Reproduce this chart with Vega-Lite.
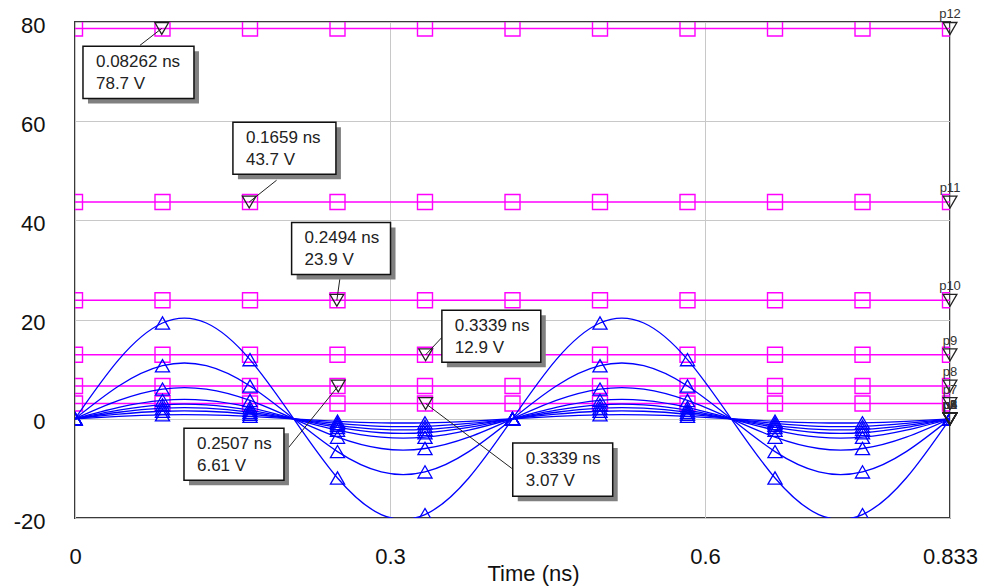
{
  "$schema": "https://vega.github.io/schema/vega-lite/v6.json",
  "width": 875,
  "height": 496,
  "autosize": {"type": "none"},
  "padding": {"left": 75, "top": 22, "right": 32, "bottom": 70},
  "background": "white",
  "config": {
    "font": "Liberation Sans",
    "view": {"stroke": "#3a3a3a", "strokeWidth": 2},
    "axis": {
      "grid": true, "gridColor": "#c8c8c8", "gridWidth": 1,
      "domain": false, "ticks": false,
      "labelFont": "Liberation Sans", "labelFontSize": 22, "labelColor": "#111111",
      "titleFont": "Liberation Sans", "titleFontSize": 22, "titleFontWeight": "normal", "titleColor": "#111111"
    }
  },
  "datasets": {
    "blue": [
      {"n": 0, "t": 0, "b1": 0, "b2": 0, "b3": 0, "b4": 0, "b5": 0, "b6": 0, "b7": 0, "b8": 0},
      {"n": 1, "t": 0.04167, "b1": 11.93, "b2": 6.61, "b3": 3.70, "b4": 2.29, "b5": 1.73, "b6": 1.32, "b7": 0.94, "b8": 0.50},
      {"n": 2, "t": 0.08333, "b1": 19.31, "b2": 10.70, "b3": 5.99, "b4": 3.71, "b5": 2.81, "b6": 2.14, "b7": 1.52, "b8": 0.81},
      {"n": 3, "t": 0.125, "b1": 19.31, "b2": 10.70, "b3": 5.99, "b4": 3.71, "b5": 2.81, "b6": 2.14, "b7": 1.52, "b8": 0.81},
      {"n": 4, "t": 0.16667, "b1": 11.93, "b2": 6.61, "b3": 3.70, "b4": 2.29, "b5": 1.73, "b6": 1.32, "b7": 0.94, "b8": 0.50},
      {"n": 5, "t": 0.20833, "b1": 0, "b2": 0, "b3": 0, "b4": 0, "b5": 0, "b6": 0, "b7": 0, "b8": 0},
      {"n": 6, "t": 0.25, "b1": -11.93, "b2": -6.61, "b3": -3.70, "b4": -2.29, "b5": -1.73, "b6": -1.32, "b7": -0.94, "b8": -0.50},
      {"n": 7, "t": 0.29167, "b1": -19.31, "b2": -10.70, "b3": -5.99, "b4": -3.71, "b5": -2.81, "b6": -2.14, "b7": -1.52, "b8": -0.81},
      {"n": 8, "t": 0.33333, "b1": -19.31, "b2": -10.70, "b3": -5.99, "b4": -3.71, "b5": -2.81, "b6": -2.14, "b7": -1.52, "b8": -0.81},
      {"n": 9, "t": 0.375, "b1": -11.93, "b2": -6.61, "b3": -3.70, "b4": -2.29, "b5": -1.73, "b6": -1.32, "b7": -0.94, "b8": -0.50},
      {"n": 10, "t": 0.41667, "b1": 0, "b2": 0, "b3": 0, "b4": 0, "b5": 0, "b6": 0, "b7": 0, "b8": 0},
      {"n": 11, "t": 0.45833, "b1": 11.93, "b2": 6.61, "b3": 3.70, "b4": 2.29, "b5": 1.73, "b6": 1.32, "b7": 0.94, "b8": 0.50},
      {"n": 12, "t": 0.5, "b1": 19.31, "b2": 10.70, "b3": 5.99, "b4": 3.71, "b5": 2.81, "b6": 2.14, "b7": 1.52, "b8": 0.81},
      {"n": 13, "t": 0.54167, "b1": 19.31, "b2": 10.70, "b3": 5.99, "b4": 3.71, "b5": 2.81, "b6": 2.14, "b7": 1.52, "b8": 0.81},
      {"n": 14, "t": 0.58333, "b1": 11.93, "b2": 6.61, "b3": 3.70, "b4": 2.29, "b5": 1.73, "b6": 1.32, "b7": 0.94, "b8": 0.50},
      {"n": 15, "t": 0.625, "b1": 0, "b2": 0, "b3": 0, "b4": 0, "b5": 0, "b6": 0, "b7": 0, "b8": 0},
      {"n": 16, "t": 0.66667, "b1": -11.93, "b2": -6.61, "b3": -3.70, "b4": -2.29, "b5": -1.73, "b6": -1.32, "b7": -0.94, "b8": -0.50},
      {"n": 17, "t": 0.70833, "b1": -19.31, "b2": -10.70, "b3": -5.99, "b4": -3.71, "b5": -2.81, "b6": -2.14, "b7": -1.52, "b8": -0.81},
      {"n": 18, "t": 0.75, "b1": -19.31, "b2": -10.70, "b3": -5.99, "b4": -3.71, "b5": -2.81, "b6": -2.14, "b7": -1.52, "b8": -0.81},
      {"n": 19, "t": 0.79167, "b1": -11.93, "b2": -6.61, "b3": -3.70, "b4": -2.29, "b5": -1.73, "b6": -1.32, "b7": -0.94, "b8": -0.50},
      {"n": 20, "t": 0.83333, "b1": 0, "b2": 0, "b3": 0, "b4": 0, "b5": 0, "b6": 0, "b7": 0, "b8": 0}
    ],
    "dc": [
      {"t": 0, "p7": 3.07, "p8": 6.61, "p9": 12.9, "p10": 23.9, "p11": 43.7, "p12": 78.7},
      {"t": 0.08333, "p7": 3.07, "p8": 6.61, "p9": 12.9, "p10": 23.9, "p11": 43.7, "p12": 78.7},
      {"t": 0.16667, "p7": 3.07, "p8": 6.61, "p9": 12.9, "p10": 23.9, "p11": 43.7, "p12": 78.7},
      {"t": 0.25, "p7": 3.07, "p8": 6.61, "p9": 12.9, "p10": 23.9, "p11": 43.7, "p12": 78.7},
      {"t": 0.33333, "p7": 3.07, "p8": 6.61, "p9": 12.9, "p10": 23.9, "p11": 43.7, "p12": 78.7},
      {"t": 0.41667, "p7": 3.07, "p8": 6.61, "p9": 12.9, "p10": 23.9, "p11": 43.7, "p12": 78.7},
      {"t": 0.5, "p7": 3.07, "p8": 6.61, "p9": 12.9, "p10": 23.9, "p11": 43.7, "p12": 78.7},
      {"t": 0.58333, "p7": 3.07, "p8": 6.61, "p9": 12.9, "p10": 23.9, "p11": 43.7, "p12": 78.7},
      {"t": 0.66667, "p7": 3.07, "p8": 6.61, "p9": 12.9, "p10": 23.9, "p11": 43.7, "p12": 78.7},
      {"t": 0.75, "p7": 3.07, "p8": 6.61, "p9": 12.9, "p10": 23.9, "p11": 43.7, "p12": 78.7},
      {"t": 0.83333, "p7": 3.07, "p8": 6.61, "p9": 12.9, "p10": 23.9, "p11": 43.7, "p12": 78.7}
    ],
    "ends": [
      {"p": "p12", "t": 0.83333, "v": 78.7},
      {"p": "p11", "t": 0.83333, "v": 43.7},
      {"p": "p10", "t": 0.83333, "v": 23.9},
      {"p": "p9", "t": 0.83333, "v": 12.9},
      {"p": "p8", "t": 0.83333, "v": 6.61},
      {"p": "p7", "t": 0.83333, "v": 3.07},
      {"p": "p6", "t": 0.83333, "v": 0},
      {"p": "p5", "t": 0.83333, "v": 0},
      {"p": "p4", "t": 0.83333, "v": 0},
      {"p": "p3", "t": 0.83333, "v": 0},
      {"p": "p2", "t": 0.83333, "v": 0},
      {"p": "p1", "t": 0.83333, "v": 0}
    ],
    "markers": [
      {"t": 0.08262, "v": 78.7},
      {"t": 0.1659, "v": 43.7},
      {"t": 0.2494, "v": 23.9},
      {"t": 0.3339, "v": 12.9},
      {"t": 0.3339, "v": 3.07},
      {"t": 0.2507, "v": 6.61}
    ],
    "leaders": [
      {"t": 0.08262, "v": 78.7, "t2": 0.0619, "v2": 75.3},
      {"t": 0.1659, "v": 43.7, "t2": 0.192, "v2": 48.1},
      {"t": 0.2494, "v": 23.9, "t2": 0.2523, "v2": 28.3},
      {"t": 0.3339, "v": 12.9, "t2": 0.3494, "v2": 16.4},
      {"t": 0.3339, "v": 3.07, "t2": 0.416, "v2": -10.0},
      {"t": 0.2507, "v": 6.61, "t2": 0.2028, "v2": -5.95}
    ],
    "boxes": [
      {"label": "0.08262 ns|78.7 V", "t": 0.0076, "t2": 0.1133, "v": 75.1, "v2": 64.6},
      {"label": "0.1659 ns|43.7 V", "t": 0.1504, "t2": 0.2485, "v": 59.8, "v2": 49.3},
      {"label": "0.2494 ns|23.9 V", "t": 0.2063, "t2": 0.3005, "v": 39.6, "v2": 29.1},
      {"label": "0.3339 ns|12.9 V", "t": 0.3494, "t2": 0.4436, "v": 21.9, "v2": 11.4},
      {"label": "0.3339 ns|3.07 V", "t": 0.4169, "t2": 0.5121, "v": -4.9, "v2": -15.6},
      {"label": "0.2507 ns|6.61 V", "t": 0.1038, "t2": 0.199, "v": -1.9, "v2": -12.4}
    ]
  },
  "encoding": {
    "x": {"field": "t", "type": "quantitative", "title": "Time (ns)",
          "scale": {"domain": [0, 0.83333], "nice": false, "zero": false},
          "axis": {"values": [0, 0.3, 0.6, 0.83333], "format": ".3~f", "labelPadding": 28, "labelFlush": false,
                   "titleX": 458, "titleY": 62, "titleAlign": "center", "titleBaseline": "alphabetic"}},
    "y": {"field": "v", "type": "quantitative", "title": null,
          "scale": {"domain": [-20, 80], "nice": false, "zero": false},
          "axis": {"values": [-20, 0, 20, 40, 60, 80], "labelExpr": "'' + datum.value", "labelPadding": 30, "labelOffset": 3}}
  },
  "layer": [
    {
      "data": {"name": "dc"},
      "transform": [{"fold": ["p7", "p8", "p9", "p10", "p11", "p12"], "as": ["probe", "v"]}],
      "mark": {"type": "line", "color": "#ff00ff", "strokeWidth": 1.5, "clip": true},
      "encoding": {"detail": {"field": "probe"}}
    },
    {
      "data": {"name": "dc"},
      "transform": [{"fold": ["p7", "p8", "p9", "p10", "p11", "p12"], "as": ["probe", "v"]}],
      "mark": {"type": "point", "shape": "square", "size": 225, "filled": false, "color": "#ff00ff", "strokeWidth": 1.4, "opacity": 1, "clip": true},
      "encoding": {}
    },
    {
      "data": {"name": "blue"},
      "transform": [{"fold": ["b1", "b2", "b3", "b4", "b5", "b6", "b7", "b8"], "as": ["curve", "v"]}],
      "mark": {"type": "line", "color": "#0000ff", "strokeWidth": 1.3, "interpolate": "natural", "clip": true},
      "encoding": {"detail": {"field": "curve"}}
    },
    {
      "data": {"name": "blue"},
      "transform": [
        {"filter": "datum.n % 2 == 0"},
        {"fold": ["b1", "b2", "b3", "b4", "b5", "b6", "b7", "b8"], "as": ["curve", "v"]}
      ],
      "mark": {"type": "point", "shape": "triangle-up", "size": 200, "filled": false, "color": "#0000ff", "strokeWidth": 1.3, "opacity": 1, "clip": true},
      "encoding": {}
    },
    {
      "data": {"name": "ends"},
      "mark": {"type": "point", "shape": "triangle-down", "size": 190, "filled": false, "color": "#222222", "strokeWidth": 1.3, "opacity": 1},
      "encoding": {}
    },
    {
      "data": {"name": "ends"},
      "mark": {"type": "text", "fontSize": 13, "color": "#333333", "dy": -14, "align": "center", "baseline": "middle"},
      "encoding": {"text": {"field": "p"}}
    },
    {
      "data": {"name": "leaders"},
      "mark": {"type": "rule", "color": "#222222", "strokeWidth": 1},
      "encoding": {"x2": {"field": "t2"}, "y2": {"field": "v2"}}
    },
    {
      "data": {"name": "markers"},
      "mark": {"type": "point", "shape": "triangle-down", "size": 190, "filled": false, "color": "#222222", "strokeWidth": 1.3, "opacity": 1},
      "encoding": {}
    },
    {
      "data": {"name": "boxes"},
      "mark": {"type": "rect", "fill": "#808080", "xOffset": 5, "x2Offset": 5, "yOffset": 5, "y2Offset": 5},
      "encoding": {"x2": {"field": "t2"}, "y2": {"field": "v2"}}
    },
    {
      "data": {"name": "boxes"},
      "mark": {"type": "rect", "fill": "white", "stroke": "#111111", "strokeWidth": 1.5},
      "encoding": {"x2": {"field": "t2"}, "y2": {"field": "v2"}}
    },
    {
      "data": {"name": "boxes"},
      "mark": {"type": "text", "fontSize": 17, "color": "#222222", "align": "left", "baseline": "alphabetic", "dx": 13, "dy": 21, "lineBreak": "|", "lineHeight": 22},
      "encoding": {"text": {"field": "label"}}
    }
  ]
}
